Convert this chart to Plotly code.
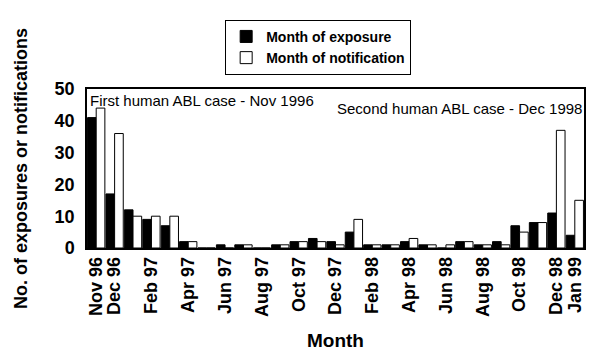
import plotly.graph_objects as go

months = ["Nov 96", "Dec 96", "Jan 97", "Feb 97", "Mar 97", "Apr 97", "May 97", "Jun 97",
          "Jul 97", "Aug 97", "Sep 97", "Oct 97", "Nov 97", "Dec 97", "Jan 98", "Feb 98",
          "Mar 98", "Apr 98", "May 98", "Jun 98", "Jul 98", "Aug 98", "Sep 98", "Oct 98",
          "Nov 98", "Dec 98", "Jan 99"]
exposure = [41, 17, 12, 9, 7, 2, 0, 1, 1, 0, 1, 2, 3, 2, 5, 1, 1, 2, 1, 0, 2, 1, 2, 7, 8, 11, 4]
notification = [44, 36, 10, 10, 10, 2, 0, 0, 1, 0, 1, 2, 2, 1, 9, 1, 1, 3, 1, 1, 2, 1, 1, 5, 8, 37, 15]
tick_labels = ["Nov 96", "Dec 96", "Feb 97", "Apr 97", "Jun 97", "Aug 97", "Oct 97", "Dec 97",
               "Feb 98", "Apr 98", "Jun 98", "Aug 98", "Oct 98", "Dec 98", "Jan 99"]

x_idx = list(range(len(months)))
tick_idx = [months.index(t) for t in tick_labels]

FONT = "Liberation Sans, Arial, sans-serif"

fig = go.Figure()
fig.add_trace(go.Bar(x=x_idx, y=exposure, name="Month of exposure",
                     marker=dict(color="black", line=dict(color="black", width=1))))
fig.add_trace(go.Bar(x=x_idx, y=notification, name="Month of notification",
                     marker=dict(color="white", line=dict(color="black", width=1))))

fig.add_annotation(text="First human ABL case - Nov 1996", xref="paper", yref="paper",
                   x=0.002, y=0.93, xanchor="left", yanchor="middle", showarrow=False,
                   font=dict(family=FONT, size=15, color="black"))
fig.add_annotation(text="Second human ABL case - Dec 1998", xref="paper", yref="paper",
                   x=1.0, y=0.875, xanchor="right", yanchor="middle", showarrow=False,
                   font=dict(family=FONT, size=15, color="black"))

# page body has an 8px default margin, so the figure is sized/offset to compensate
fig.update_layout(
    width=592, height=349,
    margin=dict(l=79, r=16, t=78, b=109),
    paper_bgcolor="white", plot_bgcolor="white",
    barmode="group", bargap=0.06, bargroupgap=0.0,
    font=dict(family=FONT, color="black"),
    legend=dict(x=0.278, y=1.435, xanchor="left", yanchor="top",
                bordercolor="black", borderwidth=1, bgcolor="white",
                font=dict(family=FONT, size=14, color="black", weight="bold"),
                tracegroupgap=0, itemwidth=30),
    xaxis=dict(range=[-0.5, 26.5], tickmode="array", tickvals=tick_idx, ticktext=tick_labels,
               tickangle=-90, showgrid=False, zeroline=False, automargin=False,
               showline=True, linecolor="black", linewidth=1.5, mirror=True,
               tickfont=dict(family=FONT, size=18, color="black", weight="bold"),
               title=dict(text="Month", standoff=18,
                          font=dict(family=FONT, size=19, color="black", weight="bold"))),
    yaxis=dict(range=[0, 50], tickvals=[0, 10, 20, 30, 40, 50], showgrid=False, zeroline=False,
               showline=True, linecolor="black", linewidth=1.5, mirror=True, automargin=False,
               ticklabelstandoff=7,
               tickfont=dict(family=FONT, size=18, color="black", weight="bold"),
               title=dict(text="No. of exposures or notifications", standoff=22,
                          font=dict(family=FONT, size=18, color="black", weight="bold"))),
)

fig.write_html("out.html")
